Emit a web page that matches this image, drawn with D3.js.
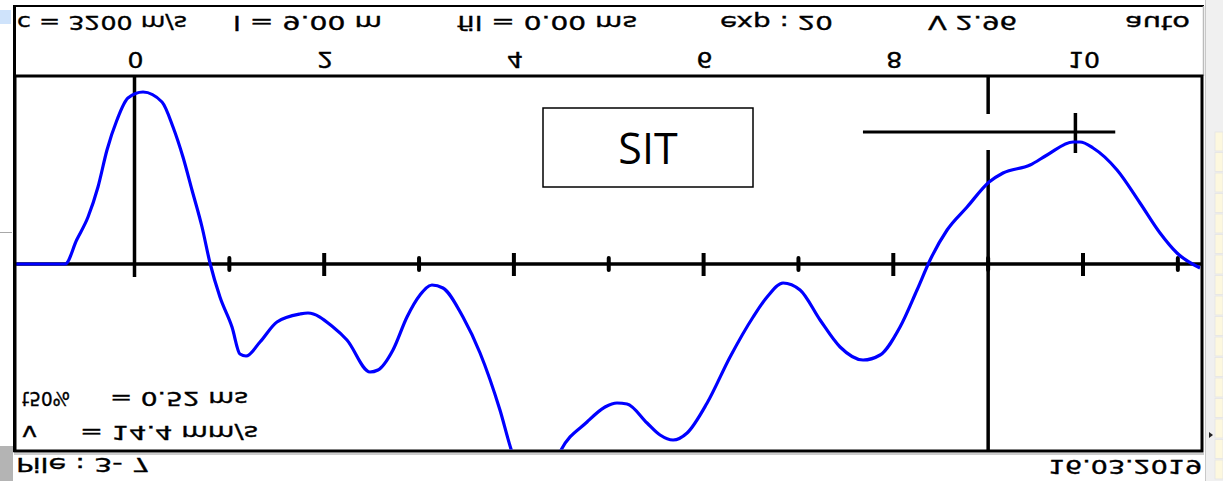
<!DOCTYPE html>
<html>
<head>
<meta charset="utf-8">
<script src="https://cdn.jsdelivr.net/npm/d3@7"></script>
<style>
  html, body { margin: 0; padding: 0; background: #ffffff; }
  svg { display: block; }
</style>
</head>
<body>
<svg id="chart" width="1223" height="481"></svg>
<script>
// ---- Pile integrity trace (depth in m, velocity in arbitrary units) ----
const depthM = [-1.26, -0.73, -0.61, -0.49, -0.385, -0.29, -0.185, -0.069, 0.09, 0.29, 0.406, 0.511,
  0.606, 0.712, 0.796, 0.901, 1.028, 1.112, 1.176, 1.323, 1.502, 1.745, 1.829, 2.093, 2.24, 2.483,
  2.567, 2.725, 2.873, 3.01, 3.136, 3.252, 3.463, 3.643, 3.853, 3.98, 4.117, 4.243, 4.37, 4.486,
  4.771, 4.961, 5.087, 5.193, 5.404, 5.541, 5.678, 5.826, 6.037, 6.279, 6.522, 6.669, 6.838, 7.017,
  7.228, 7.439, 7.681, 7.861, 8.071, 8.25, 8.388, 8.567, 8.778, 9.01, 9.157, 9.442, 9.621, 9.895,
  9.969, 10.106, 10.359, 10.601, 10.812, 10.991, 11.234];
const velocity = [0, 0, 0.24, 0.47, 0.77, 1.14, 1.44, 1.66, 1.72, 1.62, 1.37, 1.07,
  0.74, 0.37, 0.01, -0.33, -0.63, -0.9, -0.92, -0.78, -0.58, -0.5, -0.49, -0.63, -0.76, -1.08,
  -1.06, -0.86, -0.53, -0.31, -0.21, -0.24, -0.53, -0.89, -1.46, -1.88, -2.16, -2.26, -2.14, -1.88,
  -1.58, -1.43, -1.39, -1.4, -1.59, -1.71, -1.76, -1.69, -1.39, -0.93, -0.53, -0.33, -0.19, -0.26,
  -0.56, -0.83, -0.96, -0.91, -0.63, -0.26, 0.04, 0.34, 0.57, 0.82, 0.91, 0.99, 1.09, 1.22,
  1.22, 1.16, 0.94, 0.61, 0.31, 0.11, -0.04];

// depth axis
const majorTicks = [0, 2, 4, 6, 8, 10];
const minorTicks = [1, 3, 5, 7, 9, 11];
const tickLabels = ["0", "2", "4", "6", "8", "10"];

// pile-length marker and toe-reflection cursor
const pileLength = 9.0;
const cursorDepth = 9.92;
const cursorLevel = 1.32;
const cursorSpan = [7.68, 10.34];
const cursorTick = [1.11, 1.51];

// header / footer strings
const headerTexts = ["c = 3200 m/s", "l = 9.00 m", "fil = 0.00 ms", "exp : 20", "V 2.96", "auto"];
const statNames = ["t50%", "v"];
const statValues = ["= 0.52 ms", "= 14.4 mm/s"];
const pileName = "Pile : 3- 7";
const testDate = "16.03.2019";
const methodLabel = "SIT";

// ---- layout ----
const W = 1223, H = 481;
const plot = { left: 15, right: 1202, top: 76, bottom: 451 };
const svg = d3.select("#chart");

const x = d3.scaleLinear().domain([0, 10]).range([134.5, 1083]);
const y = d3.scaleLinear().domain([-1.88, 1.88]).range([452, 76]);

// window chrome around the trace panel
svg.append("rect").attr("x", 0).attr("y", 0).attr("width", W).attr("height", H).attr("fill", "#ffffff");
svg.append("rect").attr("x", 0).attr("y", 10).attr("width", 11).attr("height", 14).attr("fill", "#cfe3fb");
svg.append("line").attr("x1", 0).attr("x2", 12).attr("y1", 232.5).attr("y2", 232.5)
  .attr("stroke", "#a8a8a8").attr("stroke-width", 1);
svg.append("rect").attr("x", 0).attr("y", 446).attr("width", 13).attr("height", 35).attr("fill", "#b4b4b4");

// right side panel with table rows
const side = svg.append("g");
side.append("rect").attr("x", 1205).attr("y", 0).attr("width", 18).attr("height", H).attr("fill", "#f0f0f0");
side.append("line").attr("x1", 1205.5).attr("x2", 1205.5).attr("y1", 0).attr("y2", H)
  .attr("stroke", "#c8c8c8");
side.selectAll("rect.row").data(d3.range(17)).join("rect")
  .attr("class", "row")
  .attr("x", 1215).attr("y", d => 132 + d * 20.5).attr("width", 8).attr("height", 19)
  .attr("fill", "#fdf8df").attr("stroke", "#e4e4e4").attr("stroke-width", 0.8);
side.append("path").attr("d", "M1209,432 L1213,435 L1209,438 Z").attr("fill", "#222");

// header panel frame
svg.append("line").attr("x1", 14).attr("x2", 1204).attr("y1", 6).attr("y2", 6)
  .attr("stroke", "#000").attr("stroke-width", 2);
svg.append("line").attr("x1", 1203.5).attr("x2", 1203.5).attr("y1", 6).attr("y2", 76)
  .attr("stroke", "#bbbbbb").attr("stroke-width", 1.5);

// trace panel frame
svg.append("rect")
  .attr("x", plot.left).attr("y", plot.top)
  .attr("width", plot.right - plot.left).attr("height", plot.bottom - plot.top)
  .attr("fill", "none").attr("stroke", "#000").attr("stroke-width", 3);
svg.append("line").attr("x1", 14.5).attr("x2", 14.5).attr("y1", 5).attr("y2", 452)
  .attr("stroke", "#000").attr("stroke-width", 3);
svg.append("line").attr("x1", 14).attr("x2", 1204).attr("y1", 454).attr("y2", 454)
  .attr("stroke", "#9a9a9a").attr("stroke-width", 1);

// text that the instrument draws upside down
function flippedText(parent, str, x0, x1, baseY, size, family) {
  const g = parent.append("g").attr("transform", `translate(${x0},${baseY}) scale(1,-1)`);
  g.append("text")
    .attr("x", 0).attr("y", 0)
    .attr("textLength", x1 - x0).attr("lengthAdjust", "spacingAndGlyphs")
    .attr("font-family", family || "DejaVu Sans")
    .attr("font-size", size)
    .attr("fill", "#000")
    .attr("stroke", "#000").attr("stroke-width", 0.35)
    .text(str);
  return g;
}

// header row
const headerSpan = [[17, 187], [233, 382], [457, 637], [720, 833], [928, 1017], [1125, 1190]];
headerTexts.forEach((t, i) => flippedText(svg, t, headerSpan[i][0], headerSpan[i][1], 16, 20));

// depth tick labels
tickLabels.forEach((t, i) => {
  const cx = x(majorTicks[i]) + 1;
  const w = t.length * 16;
  flippedText(svg, t, cx - w / 2, cx + w / 2, 52, 21);
});

// baseline and ticks
const axis = svg.append("g");
axis.append("line").attr("x1", plot.left).attr("x2", plot.right)
  .attr("y1", y(0)).attr("y2", y(0)).attr("stroke", "#000").attr("stroke-width", 3.5);
axis.selectAll("line.major").data(majorTicks.filter(d => d !== 0)).join("line")
  .attr("class", "major")
  .attr("x1", d => x(d)).attr("x2", d => x(d))
  .attr("y1", y(0) - 11).attr("y2", y(0) + 12)
  .attr("stroke", "#000").attr("stroke-width", 4);
axis.selectAll("line.minor").data(minorTicks).join("line")
  .attr("class", "minor")
  .attr("x1", d => x(d)).attr("x2", d => x(d))
  .attr("y1", y(0) - 6).attr("y2", y(0) + 6)
  .attr("stroke", "#000").attr("stroke-width", 4).attr("stroke-linecap", "round");
// pile head line
axis.append("line").attr("x1", x(0)).attr("x2", x(0))
  .attr("y1", plot.top).attr("y2", y(0) + 13)
  .attr("stroke", "#000").attr("stroke-width", 3.5);

// pile length marker with a gap where the cursor crosses
const markers = svg.append("g").attr("stroke", "#000").attr("stroke-width", 3.5);
markers.append("line").attr("x1", x(pileLength)).attr("x2", x(pileLength))
  .attr("y1", plot.top).attr("y2", 114);
markers.append("line").attr("x1", x(pileLength)).attr("x2", x(pileLength))
  .attr("y1", 150).attr("y2", plot.bottom);
markers.append("line").attr("x1", x(cursorSpan[0])).attr("x2", x(cursorSpan[1]))
  .attr("y1", y(cursorLevel)).attr("y2", y(cursorLevel)).attr("stroke-width", 3);
markers.append("line").attr("x1", x(cursorDepth)).attr("x2", x(cursorDepth))
  .attr("y1", y(cursorTick[1])).attr("y2", y(cursorTick[0]));

// trace
svg.append("clipPath").attr("id", "plotClip").append("rect")
  .attr("x", plot.left + 1.5).attr("y", plot.top + 1.5)
  .attr("width", plot.right - plot.left - 3).attr("height", plot.bottom - plot.top - 3);
const line = d3.line()
  .x((d, i) => x(depthM[i]))
  .y((d, i) => y(velocity[i]))
  .curve(d3.curveMonotoneX);
svg.append("path")
  .datum(velocity)
  .attr("clip-path", "url(#plotClip)")
  .attr("d", line)
  .attr("fill", "none").attr("stroke", "#0000ff").attr("stroke-width", 3.2)
  .attr("stroke-linejoin", "round");

// method box
svg.append("rect").attr("x", 543).attr("y", 108).attr("width", 210).attr("height", 79)
  .attr("fill", "#fff").attr("stroke", "#000").attr("stroke-width", 1.5);
svg.append("text").attr("x", 648).attr("y", 164).attr("text-anchor", "middle")
  .attr("font-family", "Open Sans").attr("font-size", 43).attr("fill", "#000")
  .text(methodLabel);

// statistics block
flippedText(svg, statNames[0], 22, 70, 392, 20);
flippedText(svg, statValues[0], 110, 248, 392, 20);
flippedText(svg, statNames[1], 22, 37, 426, 20);
flippedText(svg, statValues[1], 80, 258, 426, 20);

// footer
flippedText(svg, pileName, 16, 150, 458, 20);
flippedText(svg, testDate, 1048, 1202, 460, 20);
</script>
</body>
</html>
